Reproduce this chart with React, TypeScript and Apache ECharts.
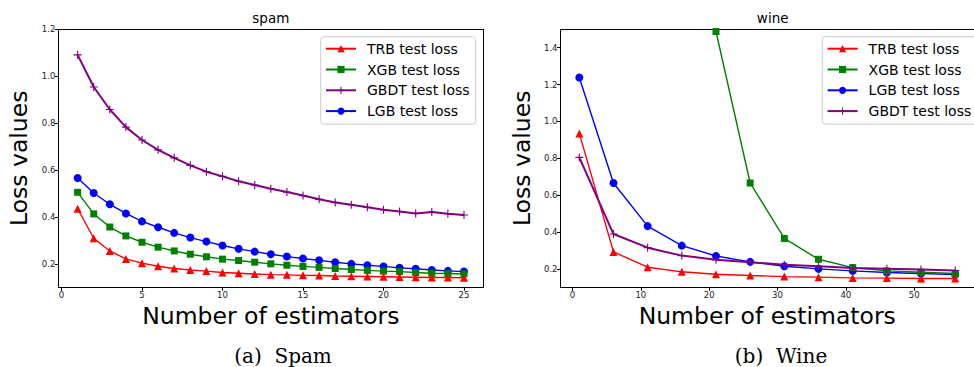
import React, { useEffect, useRef } from "react";
import * as echarts from "echarts";

// ---------- spam ----------
const spamX = [1, 2, 3, 4, 5, 6, 7, 8, 9, 10, 11, 12, 13, 14, 15, 16, 17, 18, 19, 20, 21, 22, 23, 24, 25];
const spamTRB = [0.435, 0.309, 0.255, 0.221, 0.203, 0.19, 0.18, 0.174, 0.169, 0.163, 0.16, 0.157, 0.154, 0.153, 0.151, 0.15, 0.148, 0.147, 0.146, 0.145, 0.144, 0.143, 0.142, 0.142, 0.141];
const spamXGB = [0.505, 0.413, 0.357, 0.319, 0.292, 0.271, 0.255, 0.241, 0.23, 0.22, 0.214, 0.207, 0.2, 0.194, 0.189, 0.185, 0.18, 0.176, 0.172, 0.169, 0.167, 0.163, 0.16, 0.159, 0.157];
const spamGBDT = [1.091, 0.954, 0.858, 0.783, 0.728, 0.686, 0.652, 0.62, 0.593, 0.573, 0.552, 0.536, 0.52, 0.506, 0.491, 0.475, 0.462, 0.452, 0.441, 0.431, 0.423, 0.415, 0.421, 0.414, 0.408];
const spamLGB = [0.566, 0.502, 0.454, 0.415, 0.381, 0.356, 0.332, 0.312, 0.295, 0.278, 0.264, 0.252, 0.241, 0.231, 0.223, 0.215, 0.207, 0.2, 0.194, 0.189, 0.183, 0.179, 0.174, 0.17, 0.167];

// ---------- wine ----------
const wineX = [1, 6, 11, 16, 21, 26, 31, 36, 41, 46, 51, 56];
const wineTRB = [0.935, 0.292, 0.209, 0.184, 0.171, 0.164, 0.158, 0.155, 0.151, 0.15, 0.148, 0.148];
const wineXGB = [16.5, 8.2, 4.1, 2.3, 1.488, 0.666, 0.365, 0.252, 0.207, 0.189, 0.182, 0.175];
const wineLGB = [1.238, 0.666, 0.432, 0.326, 0.27, 0.238, 0.214, 0.2, 0.189, 0.18, 0.175, 0.169];
const wineGBDT = [0.805, 0.389, 0.315, 0.272, 0.25, 0.236, 0.223, 0.214, 0.205, 0.2, 0.196, 0.191];

// ---------- ticks ----------
const spamXTicks = [0, 5, 10, 15, 20, 25];
const spamYTicks = [0.2, 0.4, 0.6, 0.8, 1.0, 1.2];
const wineXTicks = [0, 10, 20, 30, 40, 50];
const wineYTicks = [0.2, 0.4, 0.6, 0.8, 1.0, 1.2, 1.4];

const NAMES = { trb: "TRB test loss", xgb: "XGB test loss", gbdt: "GBDT test loss", lgb: "LGB test loss" };
const COLORS = { trb: "#ff0000", xgb: "#008000", gbdt: "#800080", lgb: "#0000ff" };
const PLUS = "path://M4.3,0H5.7V4.3H10V5.7H5.7V10H4.3V5.7H0V4.3H4.3Z";

const FONT = "DejaVu Sans";

function zip(xs: number[], ys: number[]) {
  return xs.map((x, i) => [x, ys[i]]);
}

function mkSeries(key: "trb" | "xgb" | "gbdt" | "lgb", xs: number[], ys: number[], axis: number) {
  const sym = key === "trb" ? "triangle" : key === "xgb" ? "rect" : key === "lgb" ? "circle" : PLUS;
  const size = key === "trb" ? 8 : key === "xgb" ? 7 : key === "lgb" ? 8 : 8;
  return {
    type: "line",
    name: NAMES[key],
    xAxisIndex: axis,
    yAxisIndex: axis,
    data: zip(xs, ys),
    symbol: sym,
    symbolSize: size,
    showAllSymbol: true,
    clip: true,
    color: COLORS[key],
    lineStyle: { color: COLORS[key], width: key === "gbdt" ? 2 : 1.4 },
    itemStyle: { color: COLORS[key] },
    emphasis: { disabled: true },
    z: key === "gbdt" ? 3 : 2,
  };
}

function valueAxisX(grid: number, min: number, max: number, ticks: number[], name: string) {
  return {
    type: "value",
    gridIndex: grid,
    min,
    max,
    position: "bottom",
    name,
    nameLocation: "middle",
    nameGap: 14,
    nameTextStyle: { fontFamily: FONT, fontSize: 23.5, color: "#000" },
    axisLine: { show: true, onZero: false, lineStyle: { color: "#000", width: 1 } },
    axisTick: { show: true, length: 3.5, lineStyle: { color: "#000", width: 1 }, customValues: ticks },
    axisLabel: {
      show: true,
      customValues: ticks,
      margin: 3,
      fontFamily: FONT,
      fontSize: 8.5,
      color: "#222",
      formatter: (v: number) => String(Math.round(v)),
    },
    splitLine: { show: false },
  };
}

function valueAxisY(grid: number, min: number, max: number, ticks: number[]) {
  return {
    type: "value",
    gridIndex: grid,
    min,
    max,
    position: "left",
    name: "Loss values",
    nameLocation: "middle",
    nameGap: 27,
    nameTextStyle: { fontFamily: FONT, fontSize: 23.5, color: "#000" },
    axisLine: { show: true, onZero: false, lineStyle: { color: "#000", width: 1 } },
    axisTick: { show: true, length: 3.5, lineStyle: { color: "#000", width: 1 }, customValues: ticks },
    axisLabel: {
      show: true,
      customValues: ticks,
      margin: 3,
      fontFamily: FONT,
      fontSize: 8.5,
      color: "#222",
      formatter: (v: number) => v.toFixed(1),
    },
    splitLine: { show: false },
  };
}

function spineAxis(grid: number, min: number, max: number, position: string) {
  return {
    type: "value",
    gridIndex: grid,
    min,
    max,
    position,
    axisLine: { show: true, onZero: false, lineStyle: { color: "#000", width: 1 } },
    axisTick: { show: false },
    axisLabel: { show: false },
    splitLine: { show: false },
  };
}

function legendFor(names: string[], left: number) {
  return {
    orient: "vertical",
    left,
    top: 36.7,
    data: names,
    itemWidth: 30,
    itemHeight: 9,
    itemGap: 6.8,
    padding: [5, 6, 6, 4.3],
    backgroundColor: "rgba(255,255,255,0.8)",
    borderColor: "#cccccc",
    borderWidth: 1,
    borderRadius: 3,
    selectedMode: false,
    textStyle: { fontFamily: FONT, fontSize: 14, color: "#000", lineHeight: 14, padding: [0, 0, 0, 6] },
  };
}

export default function App() {
  const ref = useRef<HTMLDivElement>(null);

  useEffect(() => {
    if (!ref.current) return;
    document.body.style.margin = "0";
    const chart = echarts.init(ref.current, undefined, { renderer: "svg" });
    const spamYMin = 0.1, spamYMax = 1.2, spamXMin = -0.2, spamXMax = 26.2;
    const wineYMin = 0.1, wineYMax = 1.5, wineXMin = -1.75, wineXMax = 58.75;

    chart.setOption({
      animation: false,
      backgroundColor: "#ffffff",
      title: [
        { text: "spam", left: 270.8, top: 11, textAlign: "center", padding: 0, textStyle: { fontFamily: FONT, fontSize: 13.5, fontWeight: "normal", color: "#000" } },
        { text: "wine", left: 772.7, top: 11, textAlign: "center", padding: 0, textStyle: { fontFamily: FONT, fontSize: 13.5, fontWeight: "normal", color: "#000" } },
        { text: "(a)  Spam", left: 283, top: 346, textAlign: "center", padding: 0, textStyle: { fontFamily: "DejaVu Serif", fontSize: 20, fontWeight: "normal", color: "#000" } },
        { text: "(b)  Wine", left: 781, top: 346, textAlign: "center", padding: 0, textStyle: { fontFamily: "DejaVu Serif", fontSize: 20, fontWeight: "normal", color: "#000" } },
      ],
      grid: [
        { left: 58.3, top: 29.3, width: 425, height: 258 },
        { left: 560.5, top: 29.3, width: 424.5, height: 258 },
      ],
      xAxis: [
        valueAxisX(0, spamXMin, spamXMax, spamXTicks, "Number of estimators"),
        valueAxisX(1, wineXMin, wineXMax, wineXTicks, "Number of estimators"),
        spineAxis(0, spamXMin, spamXMax, "top"),
        spineAxis(1, wineXMin, wineXMax, "top"),
      ],
      yAxis: [
        valueAxisY(0, spamYMin, spamYMax, spamYTicks),
        valueAxisY(1, wineYMin, wineYMax, wineYTicks),
        spineAxis(0, spamYMin, spamYMax, "right"),
        spineAxis(1, wineYMin, wineYMax, "right"),
      ],
      legend: [
        legendFor([NAMES.trb, NAMES.xgb, NAMES.gbdt, NAMES.lgb], 320.7),
        legendFor([NAMES.trb, NAMES.xgb, NAMES.lgb, NAMES.gbdt], 822.3),
      ],
      series: [
        mkSeries("gbdt", spamX, spamGBDT, 0),
        mkSeries("lgb", spamX, spamLGB, 0),
        mkSeries("xgb", spamX, spamXGB, 0),
        mkSeries("trb", spamX, spamTRB, 0),
        mkSeries("gbdt", wineX, wineGBDT, 1),
        mkSeries("lgb", wineX, wineLGB, 1),
        mkSeries("xgb", wineX, wineXGB, 1),
        mkSeries("trb", wineX, wineTRB, 1),
      ],
    });
    return () => chart.dispose();
  }, []);

  return <div ref={ref} style={{ position: "fixed", left: 0, top: 0, width: 974, height: 367 }} />;
}
